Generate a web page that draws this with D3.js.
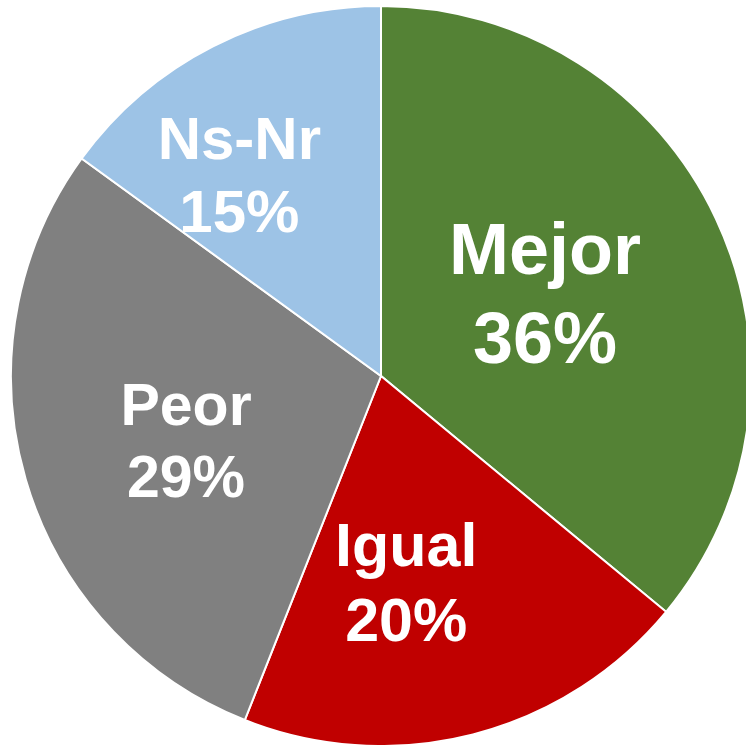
<!DOCTYPE html>
<html>
<head>
<meta charset="utf-8">
<script src="https://cdn.jsdelivr.net/npm/d3@7"></script>
<style>
  html, body { margin: 0; padding: 0; background: #fff; }
  svg { display: block; }
</style>
</head>
<body>
<script>
// Pie chart: Mejor / Igual / Peor / Ns-Nr

const categories = ["Mejor", "Igual", "Peor", "Ns-Nr"];
const values = [36, 20, 29, 15];
const colors = ["#548235", "#C00000", "#808080", "#9DC3E6"];

// label placement (radius, angle in degrees from 12 o'clock) and font size
const labelRadius = [184, 207, 205, 247];
const labelAngle = [63, 173, 252, 325];
const labelSize = [72, 61, 59, 60];

const width = 746, height = 745;
const cx = 381, cy = 376, radius = 370;

const svg = d3.select("body")
              .append("svg")
              .attr("width", width)
              .attr("height", height);

const g = svg.append("g")
             .attr("transform", `translate(${cx},${cy})`);

const pie = d3.pie()
              .sort(null)
              .value(d => d);

const arc = d3.arc()
              .innerRadius(0)
              .outerRadius(radius);

const arcs = pie(values);

g.selectAll("path")
 .data(arcs)
 .enter()
 .append("path")
 .attr("d", arc)
 .style("fill", (d, i) => colors[i])
 .style("stroke", "white")
 .style("stroke-width", 2);

// labels: name on first line, percent on second
const labels = g.selectAll("text")
  .data(arcs)
  .enter()
  .append("text")
  .attr("text-anchor", "middle")
  .style("fill", "white")
  .style("font-family", "'Liberation Sans', Arial, sans-serif")
  .style("font-weight", "bold")
  .style("font-size", (d, i) => labelSize[i] + "px")
  .attr("transform", (d, i) => {
      const a = labelAngle[i] * Math.PI / 180;
      const x = labelRadius[i] * Math.sin(a);
      const y = -labelRadius[i] * Math.cos(a);
      return `translate(${x},${y})`;
  });

labels.append("tspan")
  .attr("x", 0)
  .attr("dy", (d, i) => (-0.25 * labelSize[i]) + "px")
  .text((d, i) => categories[i]);

labels.append("tspan")
  .attr("x", 0)
  .attr("dy", (d, i) => (1.23 * labelSize[i]) + "px")
  .text((d, i) => values[i] + "%");
</script>
</body>
</html>
